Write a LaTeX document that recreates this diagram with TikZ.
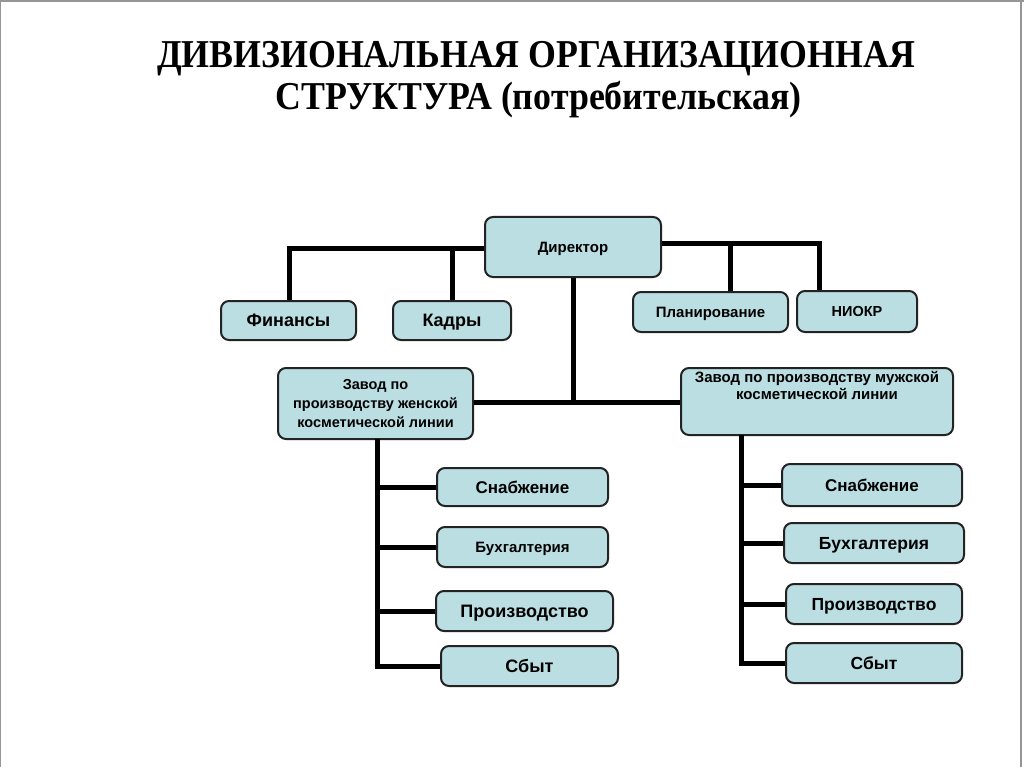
\documentclass[tikz,border=0pt]{standalone}
\usepackage{fontspec}
\newfontfamily\tfont{Liberation Serif}
\newfontfamily\bxfont{Liberation Sans}
\usetikzlibrary{calc}
\definecolor{boxfill}{RGB}{186,222,226}
\definecolor{boxline}{RGB}{35,35,35}
\definecolor{framegray}{RGB}{150,150,150}
\newlength\ttlwd
\tikzset{
  orgbox/.style={draw=boxline, line width=2pt, fill=boxfill, rounded corners=8pt,
    inner sep=2pt, align=center, text=black},
  fs/.style={font=\bxf{#1}, text height={0.716*#1pt}, text depth=0pt},
  conn/.style={line width=5pt, black, line join=miter},
  ttl/.style={anchor=base, inner sep=0pt, text=black},
}
\newcommand{\bxf}[1]{\bxfont\bfseries\fontsize{#1}{#1}\selectfont}
\newcommand{\ttlf}{\tfont\bfseries\fontsize{39.5}{42}\selectfont}
\begin{document}
\settowidth\ttlwd{\ttlf ДИВИЗИОНАЛЬНАЯ ОРГАНИЗАЦИОННАЯ}%
\pgfmathsetmacro\tsx{758/\ttlwd}%
\begin{tikzpicture}[x=1pt,y=-1pt]
\useasboundingbox (0,0) rectangle (1024,767);
\fill[white] (0,0) rectangle (1024,767);
% frame
\draw[framegray, line width=2pt] (0,1) -- (1024,1);
\draw[framegray, line width=1pt] (0.5,0) -- (0.5,767);
\draw[framegray, line width=1.5pt] (1021,0) -- (1021,767);
% title
\node[ttl] (title1) at (536,68) {\scalebox{\tsx}[1]{\ttlf ДИВИЗИОНАЛЬНАЯ ОРГАНИЗАЦИОННАЯ}};
\node[ttl] (title2) at (538.5,110) {\scalebox{\tsx}[1]{\ttlf СТРУКТУРА (потребительская)}};
% boxes
\node[orgbox, minimum width=176, minimum height=60, fs=15] (dir) at (573,247) {Директор};
\node[orgbox, minimum width=135, minimum height=39, fs=18] (fin) at (288.5,320.5) {Финансы};
\node[orgbox, minimum width=118, minimum height=39, fs=18] (kad) at (452,320.5) {Кадры};
\node[orgbox, minimum width=155, minimum height=40, fs=15] (plan) at (710.5,312) {Планирование};
\node[orgbox, minimum width=120, minimum height=41, fs=14.5] (niokr) at (857,311.5) {НИОКР};
\node[orgbox, minimum width=195, minimum height=71, font=\bxf{14.5}, execute at begin node=\setlength{\baselineskip}{19pt}] (zl) at (375.5,403.5)
  {Завод по\\производству женской\\косметической линии};
\node[orgbox, minimum width=272, minimum height=67, inner sep=3.5pt, font=\bxf{15}] (zr) at (817,401.5)
  {\parbox[c][60pt][t]{264pt}{\centering\baselineskip=17pt\vspace*{0pt}Завод по производству мужской\\косметической линии}};
% left children
\node[orgbox, minimum width=171, minimum height=38, fs=17] (snabL) at (522.5,487) {Снабжение};
\node[orgbox, minimum width=171, minimum height=40, fs=15] (buhL) at (522.5,547) {Бухгалтерия};
\node[orgbox, minimum width=177, minimum height=40, fs=18] (proL) at (524.5,611) {Производство};
\node[orgbox, minimum width=177, minimum height=40, fs=18] (sbyL) at (529.5,666) {Сбыт};
% right children
\node[orgbox, minimum width=180, minimum height=42, fs=17] (snabR) at (872,485) {Снабжение};
\node[orgbox, minimum width=180, minimum height=40, fs=17.5] (buhR) at (874,543) {Бухгалтерия};
\node[orgbox, minimum width=176, minimum height=40, fs=17.5] (proR) at (874,604) {Производство};
\node[orgbox, minimum width=176, minimum height=40, fs=17.5] (sbyR) at (874,663) {Сбыт};
% junction coordinates
\coordinate (jl) at (289,248);
\coordinate (jr) at (819,243);
\coordinate (jp) at (730,243);
\coordinate (hub) at (573,402);
\coordinate (trR) at (741,435);
\coordinate (trL) at (377,439);
% connectors
\draw[conn] (dir.west |- jl) -- (jl) -- (jl |- fin.north);
\draw[conn] (kad.north) -- (kad.north |- jl);
\draw[conn] (dir.east |- jr) -- (jr) -- (jr |- niokr.north);
\draw[conn] (jp) -- (jp |- plan.north);
\draw[conn] (dir.south) -- (hub);
\draw[conn] (zl.east |- hub) -- (zr.west |- hub);
\draw[conn] (trL) -- (trL |- sbyL.west) -- (sbyL.west);
\draw[conn] (snabL.west) -- (snabL.west -| trL);
\draw[conn] (buhL.west) -- (buhL.west -| trL);
\draw[conn] (proL.west) -- (proL.west -| trL);
\draw[conn] (trR) -- (trR |- sbyR.west) -- (sbyR.west);
\draw[conn] (snabR.west) -- (snabR.west -| trR);
\draw[conn] (buhR.west) -- (buhR.west -| trR);
\draw[conn] (proR.west) -- (proR.west -| trR);
\end{tikzpicture}
\end{document}
